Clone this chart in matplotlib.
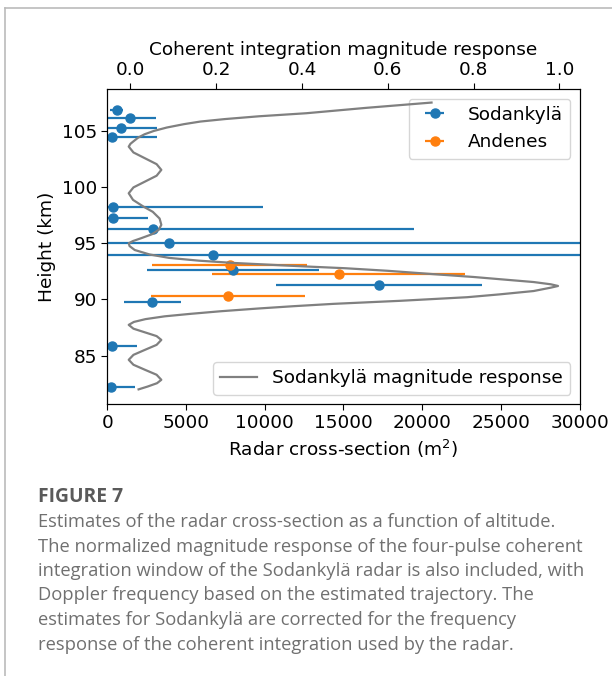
# Radar cross-section vs height with coherent integration response
import numpy as np
import matplotlib.pyplot as plt
from matplotlib.lines import Line2D

# DATA -----------------------------------------------------------------------+
sod_height = [106.87, 106.13, 105.24, 104.50, 98.27, 97.23, 96.25, 95.06,
              93.97, 92.63, 91.30, 89.81, 85.90, 82.20]
sod_rcs = [600, 1440, 850, 280, 380, 380, 2880, 3930, 6720, 7990, 17250,
           2860, 320, 240]
sod_err = [420, 1630, 2280, 2850, 9510, 2180, 16590, 32000, 35000, 5460,
           6560, 1800, 1580, 1520]

and_height = [93.10, 92.25, 90.29]
and_rcs = [7780, 14690, 7670]
and_err = [4930, 8050, 4910]

resp_height = [107.52, 107.05, 106.57, 106.30, 106.05, 105.83, 105.60, 105.30,
               105.00, 104.70, 104.40, 104.10, 103.85, 103.60,
               103.08, 102.56, 102.04, 101.53, 101.01, 100.49, 99.97, 99.45,
               98.86, 98.27, 97.80, 97.20, 96.64, 96.20, 95.80, 95.45, 95.20,
               95.00, 94.75, 94.40, 94.00, 93.70, 93.45, 93.25, 93.10, 92.95,
               92.78, 92.55, 92.25, 92.00, 91.80, 91.55, 91.35, 91.20, 91.05,
               90.75, 90.45, 90.20, 89.88, 89.61, 89.40, 89.20, 88.95, 88.72,
               88.50, 88.25, 88.00, 87.74,
               87.40, 87.07, 86.74, 86.40, 85.96, 85.52, 85.07, 84.63,
               84.19, 83.74, 83.30, 82.85, 82.55, 82.25, 82.00]
resp_mag = [0.702, 0.550, 0.410, 0.300, 0.220, 0.163, 0.125, 0.085,
            0.055, 0.033, 0.018, 0.008, 0.000, -0.004,
            0.007, 0.034, 0.061, 0.072, 0.061, 0.034, 0.007, -0.004,
            0.006, 0.030, 0.052, 0.068, 0.072, 0.066, 0.050, 0.025, 0.006,
            -0.004, -0.002, 0.010, 0.045, 0.090, 0.160, 0.240, 0.320, 0.400,
            0.500, 0.600, 0.707, 0.800, 0.862, 0.940, 0.980, 0.997, 0.980,
            0.940, 0.860, 0.785, 0.629, 0.474, 0.380, 0.300, 0.210, 0.140,
            0.080, 0.035, 0.008, -0.004,
            0.007, 0.034, 0.061, 0.072, 0.061, 0.034, 0.007, -0.004,
            0.007, 0.034, 0.061, 0.072, 0.062, 0.040, 0.019]

# PLOT -----------------------------------------------------------------------+
plt.rcParams['font.family'] = 'DejaVu Sans'
plt.rcParams['font.size'] = 13.3
plt.rcParams['xtick.major.size'] = 4
plt.rcParams['ytick.major.size'] = 4
fig = plt.figure(figsize=(6.12, 6.76), dpi=100)
ax = fig.add_axes([0.1753, 0.4024, 0.7716, 0.4655])

ax.errorbar(sod_rcs, sod_height, xerr=sod_err, fmt='o', color='C0',
            markersize=6.5, elinewidth=1.6, label='Sodankylä')
ax.errorbar(and_rcs, and_height, xerr=and_err, fmt='o', color='C1',
            markersize=6.5, elinewidth=1.6, label='Andenes')
ax.set_xlim(0, 30000)
ax.set_ylim(80.7, 108.7)
ax.set_xticks(np.arange(0, 30001, 5000))
ax.set_yticks([85, 90, 95, 100, 105])
ax.set_xlabel('Radar cross-section (m$^2$)')
ax.set_ylabel('Height (km)')
ax.legend(loc='upper right')

ax2 = ax.twiny()
ax2.plot(resp_mag, resp_height, color='gray', lw=1.6,
         label='Sodankylä magnitude response')
ax2.set_xlim(-0.054, 1.047)
ax2.set_xticks([0.0, 0.2, 0.4, 0.6, 0.8, 1.0])
ax2.set_xlabel('Coherent integration magnitude response')
ax2.legend(loc='lower right')

# frame lines of the page
fig.add_artist(Line2D([5 / 612, 5 / 612], [0, 1 - 8 / 676], color='#bbbbbb', lw=1.2))
fig.add_artist(Line2D([5 / 612, 1], [1 - 8 / 676, 1 - 8 / 676], color='#bbbbbb', lw=1.2))

# caption
cap = ['Estimates of the radar cross-section as a function of altitude.',
       'The normalized magnitude response of the four-pulse coherent',
       'integration window of the Sodankylä radar is also included, with',
       'Doppler frequency based on the estimated trajectory. The',
       'estimates for Sodankylä are corrected for the frequency',
       'response of the coherent integration used by the radar.']
fig.text(38 / 612, 1 - 497 / 676, 'FIGURE 7', family='Open Sans',
         weight='bold', fontsize=13.9, color='#5a5a5a', va='center')
for i, line in enumerate(cap):
    fig.text(38 / 612, 1 - (522 + 24.5 * i) / 676, line, family='Open Sans',
             fontsize=13.25, color='#707070', va='center')

fig.savefig('out.png')
